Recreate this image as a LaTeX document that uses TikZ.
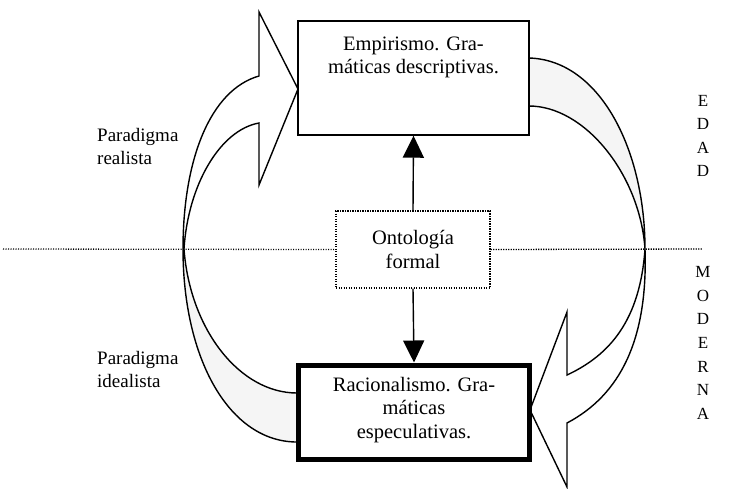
\documentclass[tikz,border=0pt]{standalone}
\usepackage{fontspec}
\setmainfont{Liberation Serif}
\usetikzlibrary{arrows.meta}
\begin{document}
\begin{tikzpicture}[x=1pt,y=-1pt,
  boxtext/.style={font=\fontsize{20.5}{23.5}\selectfont, align=center, inner sep=0pt},
  sidetext/.style={font=\fontsize{19}{23}\selectfont, align=left, inner sep=0pt, anchor=west},
  lettercol/.style={font=\fontsize{17}{23.6}\selectfont, align=center, inner sep=0pt},
  flow/.style={line width=1.4pt, line join=miter},
  band/.style={fill=black!4},
  link/.style={line width=1.4pt, -{Triangle[width=21pt,length=22pt]}},
  divider/.style={line width=1.3pt, dash pattern=on 1.1pt off 1.4pt},
]
\useasboundingbox (0,0) rectangle (739,488);

% dividing line between the two periods
\coordinate (divL) at (3,249);
\coordinate (divR) at (702,249);

% central box
\node[draw, divider, minimum width=154pt, minimum height=77pt, inner sep=0pt] (onto) at (413,249.5) {};
\node[boxtext] (ontotext) at (413,249.5) {Ontología\\formal};
\draw[divider] (divL) -- (onto.west);
\draw[divider] (onto.east) -- (divR);

% left block arrow: from the speculative grammars up to the descriptive ones
\fill[band] (297,442) .. controls (230,442) and (183,360) .. (183,249)
  .. controls (190,330) and (240,393) .. (297,393) -- cycle;
\draw[flow] (297,442) .. controls (230,442) and (183,360) .. (183,249)
  .. controls (183,160) and (210,90) .. (259,76) -- (259,12) -- (298,89) -- (259,185) -- (259,123)
  .. controls (220,130) and (188,185) .. (184,249)
  .. controls (190,330) and (240,393) .. (297,393);

% right block arrow: from the descriptive grammars down to the speculative ones
\fill[band] (529,58) .. controls (600,60) and (645,150) .. (645,249)
  .. controls (640,175) and (585,106) .. (529,106) -- cycle;
\draw[flow] (529,58) .. controls (600,60) and (645,150) .. (645,249)
  .. controls (648,340) and (620,395) .. (567,423) -- (567,487) -- (530,410) -- (567,312) -- (567,375)
  .. controls (610,355) and (640,320) .. (645,249)
  .. controls (640,175) and (585,106) .. (529,106);

% main boxes
\node[draw, fill=white, line width=1.4pt, minimum width=231pt, minimum height=114pt, inner sep=0pt] (emp) at (413.5,78) {};
\node[boxtext, anchor=north] (emptext) at (413.5,36.5) {Empirismo. Gra-\\máticas descriptivas.};

\node[draw, fill=white, line width=5pt, minimum width=231pt, minimum height=94.5pt, inner sep=0pt] (rac) at (414,412.25) {};
\node[boxtext, anchor=north] (ractext) at (414,377) {Racionalismo. Gra-\\máticas\\especulativas.};

% links from the formal ontology
\draw[link] (onto.north) -- (emp.south);
\draw[link] (onto.south) -- (rac.north);

% side labels
\node[sidetext] (realista) at (97,146) {Paradigma\\realista};
\node[sidetext] (idealista) at (97,369.5) {Paradigma\\idealista};
\node[lettercol] (edad) at (703,136) {E\\D\\A\\D};
\node[lettercol] (moderna) at (703,343) {M\\O\\D\\E\\R\\N\\A};
\end{tikzpicture}
\end{document}
